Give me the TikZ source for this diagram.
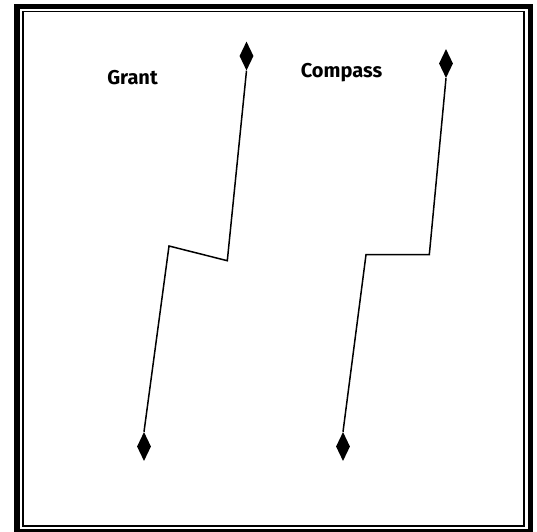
\documentclass[tikz,border=0pt]{standalone}
\usepackage{fontspec}
\setmainfont{Fira Sans}
\usetikzlibrary{shapes.geometric}
\begin{document}
\begin{tikzpicture}[x=1pt,y=-1pt,
  tip/.style={diamond,draw=none,fill=black,inner sep=0pt,minimum width=14pt,minimum height=29pt},
  wire/.style={line width=1.5pt,line join=miter},
  lbl/.style={font=\bfseries\fontsize{20}{24}\selectfont,anchor=base,inner sep=0pt}]
\useasboundingbox (0,0) rectangle (537,531);
\clip (0,0) rectangle (537,531);
\draw[line width=5.5pt] (17,6.5) rectangle (530.5,531.8);
\draw[line width=1.5pt] (23,11.7) rectangle (524,526);
\node[lbl] (grant) at (132.5,84) {Grant};
\node[lbl] (compass) at (341.5,77) {Compass};
% Grant
\node[tip] (gt) at (246.5,56) {};
\node[tip] (gb) at (144,446.5) {};
\coordinate (g1) at (169,246);
\coordinate (g2) at (227.3,260.7);
\draw[wire] (gb.north) -- (g1) -- (g2) -- (gt.south);
% Compass
\node[tip] (ct) at (446,63.5) {};
\node[tip] (cb) at (343,446.5) {};
\coordinate (c1) at (366,254.7);
\coordinate (c2) at (429.3,254.7);
\draw[wire] (cb.north) -- (c1) -- (c2) -- (ct.south);
\end{tikzpicture}
\end{document}
